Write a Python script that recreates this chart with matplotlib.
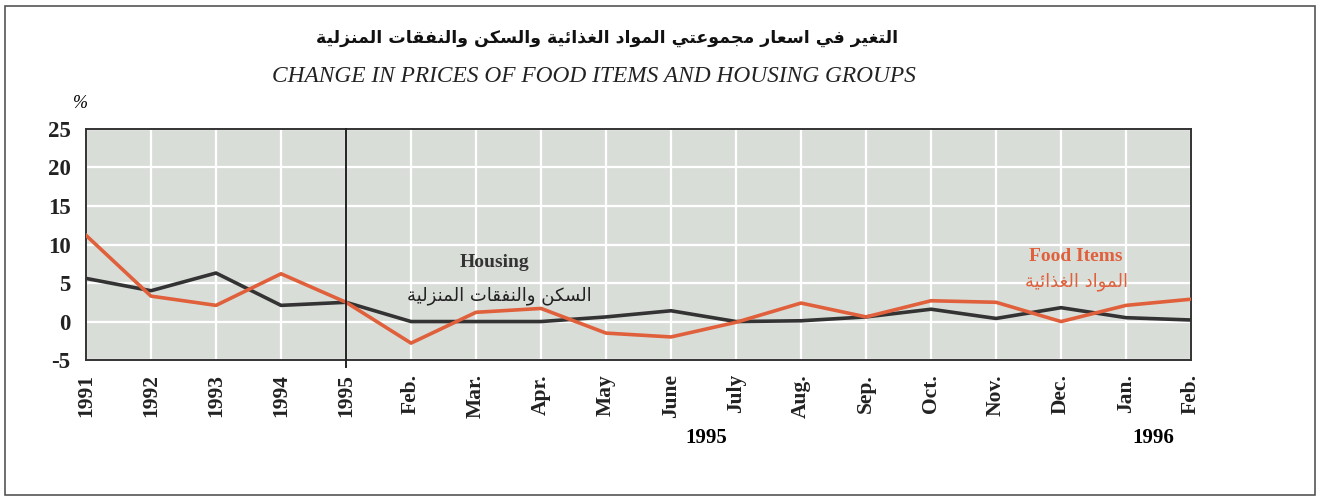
import matplotlib
matplotlib.use("Agg")
import matplotlib.pyplot as plt
from matplotlib.patches import Rectangle

# ---------------------------------------------------------
# DATA
# ---------------------------------------------------------

categories = ["1991", "1992", "1993", "1994", "1995", "Feb.", "Mar.", "Apr.",
              "May", "June", "July", "Aug.", "Sep.", "Oct.", "Nov.", "Dec.",
              "Jan.", "Feb."]

housing = [5.6, 4.0, 6.3, 2.1, 2.5, 0.0, 0.0, 0.0, 0.6, 1.4, 0.0, 0.1,
           0.6, 1.6, 0.4, 1.8, 0.5, 0.2]

food = [11.2, 3.3, 2.1, 6.2, 2.5, -2.8, 1.2, 1.7, -1.5, -2.0, -0.1, 2.4,
        0.6, 2.7, 2.5, 0.0, 2.1, 2.9]

y_ticks = [-5, 0, 5, 10, 15, 20, 25]

title_ar = "التغير في اسعار مجموعتي المواد الغذائية والسكن والنفقات المنزلية"
title_en = "CHANGE IN PRICES OF FOOD ITEMS AND HOUSING GROUPS"
housing_ar = "السكن والنفقات المنزلية"
food_ar = "المواد الغذائية"


# ---------------------------------------------------------
# simple arabic shaping (matplotlib has no bidi / shaping)
# ---------------------------------------------------------

# letter: (isolated, final, initial, medial) - None = no joining to the left
FORMS = {
    "ا": (0xFE8D, 0xFE8E, None, None),
    "أ": (0xFE83, 0xFE84, None, None),
    "ب": (0xFE8F, 0xFE90, 0xFE91, 0xFE92),
    "ة": (0xFE93, 0xFE94, None, None),
    "ت": (0xFE95, 0xFE96, 0xFE97, 0xFE98),
    "ج": (0xFE9D, 0xFE9E, 0xFE9F, 0xFEA0),
    "د": (0xFEA9, 0xFEAA, None, None),
    "ذ": (0xFEAB, 0xFEAC, None, None),
    "ر": (0xFEAD, 0xFEAE, None, None),
    "ز": (0xFEAF, 0xFEB0, None, None),
    "س": (0xFEB1, 0xFEB2, 0xFEB3, 0xFEB4),
    "ع": (0xFEC9, 0xFECA, 0xFECB, 0xFECC),
    "غ": (0xFECD, 0xFECE, 0xFECF, 0xFED0),
    "ف": (0xFED1, 0xFED2, 0xFED3, 0xFED4),
    "ق": (0xFED5, 0xFED6, 0xFED7, 0xFED8),
    "ك": (0xFED9, 0xFEDA, 0xFEDB, 0xFEDC),
    "ل": (0xFEDD, 0xFEDE, 0xFEDF, 0xFEE0),
    "م": (0xFEE1, 0xFEE2, 0xFEE3, 0xFEE4),
    "ن": (0xFEE5, 0xFEE6, 0xFEE7, 0xFEE8),
    "ه": (0xFEE9, 0xFEEA, 0xFEEB, 0xFEEC),
    "و": (0xFEED, 0xFEEE, None, None),
    "ي": (0xFEF1, 0xFEF2, 0xFEF3, 0xFEF4),
    "ئ": (0xFE89, 0xFE8A, 0xFE8B, 0xFE8C),
}


def shape(text):
    out = []
    for i, ch in enumerate(text):
        if ch not in FORMS:
            out.append(ch)
            continue
        prev = text[i - 1] if i > 0 else " "
        nxt = text[i + 1] if i + 1 < len(text) else " "
        join_prev = prev in FORMS and FORMS[prev][2] is not None
        join_next = FORMS[ch][2] is not None and nxt in FORMS
        iso, fin, ini, med = FORMS[ch]
        if join_prev and join_next:
            code = med
        elif join_prev:
            code = fin
        elif join_next:
            code = ini
        else:
            code = iso
        out.append(chr(code))
    return "".join(out)[::-1]


# ---------------------------------------------------------
# PLOT
# ---------------------------------------------------------

serif = ["Liberation Serif", "DejaVu Serif"]
ar_font = ["DejaVu Sans"]

orange = "#e0603c"
dark = "#333333"

fig = plt.figure(figsize=(13.19, 4.98), dpi=100)
ax = fig.add_axes([0.0652, 0.277, 0.8378, 0.464])

x = list(range(len(categories)))

ax.set_facecolor("#d9ddd8")
ax.grid(True, color="white", linewidth=1.6)
ax.set_axisbelow(True)

ax.plot(x, housing, color=dark, linewidth=2.6, zorder=3)
ax.plot(x, food, color=orange, linewidth=2.6, zorder=4)

ax.axvline(4, ymin=-0.03, ymax=1, color="#222222", linewidth=1.4,
           clip_on=False, zorder=5)

ax.set_xlim(0, len(categories) - 1)
ax.set_ylim(-5, 25)
ax.set_yticks(y_ticks)
ax.set_xticks(x)
ax.set_xticklabels(categories, rotation=90, fontfamily=serif,
                   fontweight="bold", fontsize=15.5)
ax.set_yticklabels([str(v) for v in y_ticks], fontfamily=serif,
                   fontweight="bold", fontsize=16.5)
ax.tick_params(axis="both", length=0, colors="#222222")
ax.tick_params(axis="x", pad=10)
ax.tick_params(axis="y", pad=11)

for s in ax.spines.values():
    s.set_color("#333333")
    s.set_linewidth(1.4)

# series labels
ax.text(6.28, 7.7, "Housing", fontfamily=serif, fontweight="bold",
        fontsize=14, color=dark, ha="center", va="center")
ax.text(7.78, 3.4, shape(housing_ar), fontfamily=ar_font, fontsize=13,
        color="#222222", ha="right", va="center")
ax.text(15.23, 8.5, "Food Items", fontfamily=serif, fontweight="bold",
        fontsize=14, color=orange, ha="center", va="center")
ax.text(15.23, 5.2, shape(food_ar), fontfamily=ar_font, fontsize=13,
        color=orange, ha="center", va="center")

# year labels under months
fig.text(706 / 1319, 1 - 438 / 498, "1995", fontfamily=serif,
         fontweight="bold", fontsize=15, ha="center", va="center")
fig.text(1153 / 1319, 1 - 438 / 498, "1996", fontfamily=serif,
         fontweight="bold", fontsize=15, ha="center", va="center")

# titles
fig.text(607 / 1319, 1 - 38 / 498, shape(title_ar), fontfamily=ar_font,
         fontweight="bold", fontsize=12.5, color="#111111",
         ha="center", va="center")
fig.text(594 / 1319, 1 - 77 / 498, title_en, fontfamily=serif,
         fontstyle="italic", fontsize=16.8, color="#222222",
         ha="center", va="center")
fig.text(80 / 1319, 1 - 103 / 498, "%", fontfamily=serif,
         fontstyle="italic", fontsize=13, ha="center", va="center")

# outer frame
fig.patches.append(Rectangle((0.004, 0.006), 0.993, 0.982,
                             transform=fig.transFigure, fill=False,
                             edgecolor="#555555", linewidth=1.2))

fig.savefig("out.png", dpi=100)
